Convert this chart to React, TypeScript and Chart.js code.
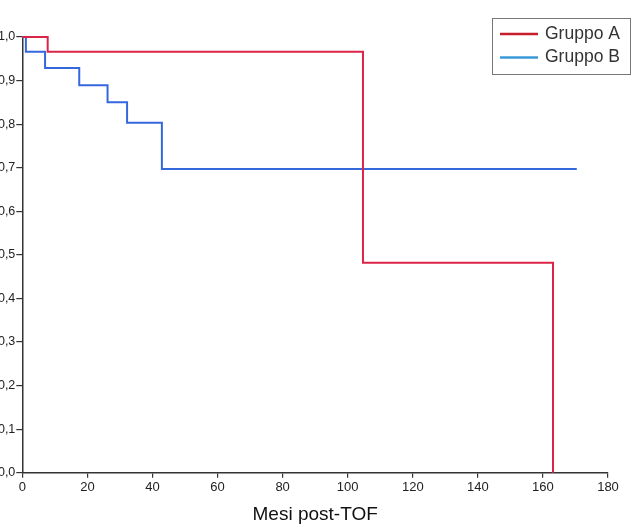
import React, { useEffect, useRef } from "react";
import { Chart, registerables } from "chart.js";

Chart.register(...registerables);

// ---- data ----
const seriesNames = ["Gruppo A", "Gruppo B"];
const timesA = [0, 7.8, 104.7, 163.1];
const survA = [1.0, 0.966, 0.482, 0.0];
const timesB = [0, 1.1, 7.0, 17.5, 26.2, 32.2, 42.9, 170.4];
const survB = [1.0, 0.966, 0.929, 0.889, 0.85, 0.803, 0.697, 0.697];
const xTickValues = [0, 20, 40, 60, 80, 100, 120, 140, 160, 180];
const yTickValues = [0, 0.1, 0.2, 0.3, 0.4, 0.5, 0.6, 0.7, 0.8, 0.9, 1.0];
const xTitle = "Mesi post-TOF";

const lineColors = ["#dc2448", "#3567dd"];
const legendColors = ["#c81e2c", "#3a9ad8"];

const W = 637;
const H = 531;

const legendPlugin = {
  id: "boxLegend",
  afterDraw(chart: any) {
    const ctx = chart.ctx as CanvasRenderingContext2D;
    ctx.save();
    const bx = 492.5, by = 18.5, bw = 138, bh = 56;
    ctx.fillStyle = "#ffffff";
    ctx.fillRect(bx, by, bw, bh);
    ctx.strokeStyle = "#777777";
    ctx.lineWidth = 1;
    ctx.strokeRect(bx, by, bw, bh);
    const rows = [34, 57.5];
    seriesNames.forEach((name, i) => {
      ctx.strokeStyle = legendColors[i];
      ctx.lineWidth = 2.5;
      ctx.beginPath();
      ctx.moveTo(500, rows[i]);
      ctx.lineTo(538, rows[i]);
      ctx.stroke();
      ctx.fillStyle = "#333333";
      ctx.font = "17.5px 'Liberation Sans', Arial, sans-serif";
      ctx.textBaseline = "middle";
      ctx.textAlign = "left";
      ctx.fillText(name, 545, rows[i]);
    });
    ctx.restore();
  },
};

export default function App() {
  const ref = useRef<HTMLCanvasElement | null>(null);

  useEffect(() => {
    if (!ref.current) return;
    const chart = new Chart(ref.current, {
      type: "line",
      data: {
        datasets: [
          {
            label: seriesNames[0],
            data: timesA.map((t, i) => ({ x: t, y: survA[i] })),
            borderColor: lineColors[0],
            borderWidth: 2,
            stepped: "before",
            pointRadius: 0,
            fill: false,
            clip: false as any,
          },
          {
            label: seriesNames[1],
            data: timesB.map((t, i) => ({ x: t, y: survB[i] })),
            borderColor: lineColors[1],
            borderWidth: 2,
            stepped: "before",
            pointRadius: 0,
            fill: false,
            clip: false as any,
          },
        ],
      },
      options: {
        animation: false,
        responsive: false,
        devicePixelRatio: 1,
        layout: { padding: { left: 0, top: 37, right: 29, bottom: 0 } },
        plugins: {
          legend: { display: false },
          tooltip: { enabled: false },
          title: { display: false },
        },
        scales: {
          x: {
            type: "linear",
            min: 0,
            max: 180,
            afterBuildTicks: (scale: any) => {
              scale.ticks = xTickValues.map((v) => ({ value: v }));
            },
            afterFit: (scale: any) => {
              scale.height = 58.3;
            },
            grid: {
              drawOnChartArea: false,
              drawTicks: true,
              tickLength: 5,
              color: "#333333",
              lineWidth: 1.2,
            },
            border: { display: true, color: "#333333", width: 1.5 },
            ticks: {
              color: "#222222",
              padding: 2,
              maxRotation: 0,
              autoSkip: false,
              font: { family: "'Liberation Sans Narrow', 'Liberation Sans', Arial, sans-serif", size: 13 },
              callback: (v: any) => String(v),
            },
            title: {
              display: true,
              text: xTitle,
              color: "#111111",
              font: { family: "'Liberation Sans', Arial, sans-serif", size: 19 },
              padding: { top: 0, bottom: 5 },
            },
          },
          y: {
            type: "linear",
            min: 0,
            max: 1,
            afterBuildTicks: (scale: any) => {
              scale.ticks = yTickValues.map((v) => ({ value: v }));
            },
            afterFit: (scale: any) => {
              scale.width = 22.3;
            },
            grid: {
              drawOnChartArea: false,
              drawTicks: true,
              tickLength: 6,
              color: "#333333",
              lineWidth: 1.2,
            },
            border: { display: true, color: "#333333", width: 1.5 },
            ticks: {
              color: "#222222",
              padding: 1,
              autoSkip: false,
              font: { family: "'Liberation Sans', Arial, sans-serif", size: 12.5 },
              callback: (v: any) => Number(v).toFixed(1).replace(".", ","),
            },
          },
        },
      },
      plugins: [legendPlugin],
    });
    return () => chart.destroy();
  }, []);

  return (
    <div style={{ position: "fixed", left: 0, top: 0, width: W, height: H, background: "#fff" }}>
      <canvas ref={ref} width={W} height={H} style={{ width: W, height: H, display: "block" }} />
    </div>
  );
}
